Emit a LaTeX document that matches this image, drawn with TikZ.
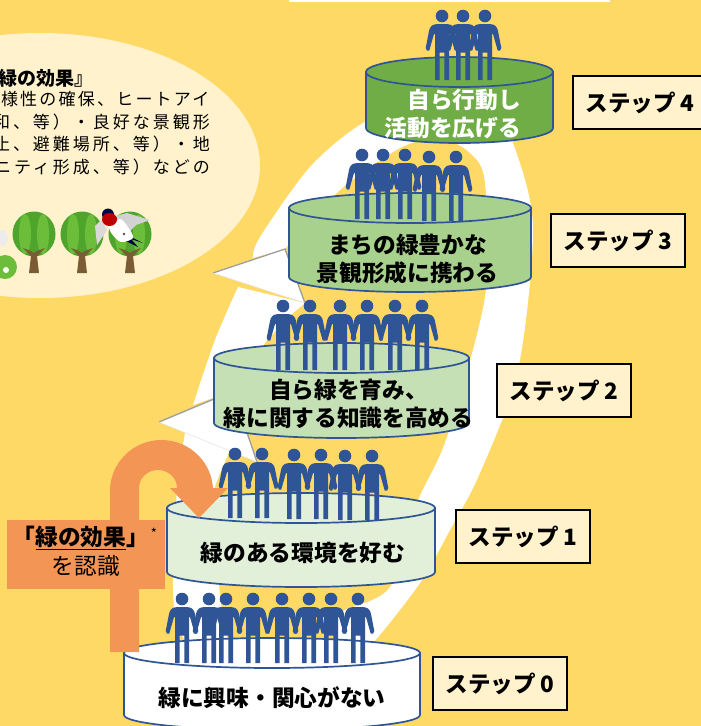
\documentclass[tikz,border=0pt]{standalone}
\usepackage{fontspec}
\usepackage{xcolor}
\setmainfont{Noto Sans CJK JP}
\newfontfamily\widefont[LetterSpace=17.5]{Noto Sans CJK JP}
\newfontfamily\tightfont[LetterSpace=13]{Noto Sans CJK JP}
\usetikzlibrary{calc}

\definecolor{bgyellow}{HTML}{FFD966}
\definecolor{palecream}{HTML}{FFF2CC}
\definecolor{arroworange}{HTML}{F29555}
\definecolor{peopleblue}{HTML}{2F5597}
\definecolor{greenfour}{HTML}{70AD47}
\definecolor{greenthree}{HTML}{A9D18E}
\definecolor{greentwo}{HTML}{C5E0B4}
\definecolor{greenone}{HTML}{E2F0D9}
\definecolor{headgray}{HTML}{A0A0A0}
\definecolor{leafdark}{HTML}{4FA52C}
\definecolor{leaflight}{HTML}{6CBE3A}
\definecolor{trunkbrown}{HTML}{7A5C34}

\tikzset{
  discline/.style={draw=peopleblue,line width=1.7pt},
  disctext/.style={font=\fontsize{22.7}{28}\selectfont\bfseries,align=center,text=black,inner sep=0pt},
  stepbox/.style={draw=black,line width=1.2pt,fill=palecream,minimum width=134pt,minimum height=53pt,
    inner sep=0pt,font=\fontsize{22.5}{27}\selectfont\bfseries},
  swirlhead/.style={draw=headgray,line width=1.4pt},
  bodytext/.style={anchor=east,inner sep=0pt,font=\fontsize{17}{20}\selectfont},
  person/.pic={
    \fill[peopleblue] (0,0) circle (6.3);
    \fill[peopleblue] (0,8) .. controls (4,8) and (8,8) .. (10,9.5) .. controls (12,11) and (12.5,13) .. (13,15)
      -- (16.3,32) -- (15,34.5) -- (12.7,34.5) -- (8,18) -- (7,18) -- (7,64) -- (2.3,64) -- (2.3,36.5)
      -- (-2.3,36.5) -- (-2.3,64) -- (-7,64) -- (-7,18) -- (-8,18) -- (-12.7,34.5) -- (-15,34.5) -- (-16.3,32)
      -- (-13,15) .. controls (-12.5,13) and (-12,11) .. (-10,9.5) .. controls (-8,8) and (-4,8) .. (0,8) -- cycle;
  },
  treepic/.pic={
    \fill[leafdark] (0,0) ellipse (21.5 and 22.5);
    \fill[leaflight] (-9,0) ellipse (6 and 20);
    \fill[leaflight] (9,0) ellipse (6 and 20);
    \fill[trunkbrown] (-5,39) -- (-3,22) -- (-11,14) -- (-3,17) -- (0,19) -- (3,17) -- (11,14) -- (3,22) -- (5,39) -- cycle;
  },
}

% disc of one step: centre x, top y, bottom y, half width, fill
\newcommand{\stepdisc}[5]{
  \path[discline,fill=#5] (#1-#4,#2) -- (#1-#4,#3) arc[start angle=180,end angle=0,x radius=#4,y radius=15] -- (#1+#4,#2) -- cycle;
  \path[discline,fill=#5] (#1,#2) ellipse (#4 and 15);
}

\begin{document}
\begin{tikzpicture}[x=1pt,y=-1pt]
  \useasboundingbox (0,0) rectangle (701,726);
  \clip (0,0) rectangle (701,726);
  \fill[bgyellow] (0,0) rectangle (701,726);
  \fill[white] (289,0) rectangle (610,1.5);

  % cream ellipse with the text and the trees
  \fill[palecream] (40,165.5) ellipse (220 and 132.5);
  \node[anchor=east,inner sep=0pt,font=\fontsize{19}{22}\selectfont\bfseries] (titletext) at (94,78) {緑の効果』};
  \node[bodytext] (lineone) at (209.5,99) {\tightfont 様性の確保、ヒートアイ};
  \node[bodytext] (linetwo) at (210,122) {\widefont 和、等）・良好な景観形};
  \node[bodytext] (linethree) at (210,144.5) {\widefont 止、避難場所、等）・地};
  \node[bodytext] (linefour) at (210,167) {\widefont ニティ形成、等）などの};
  \pic at (34,234) {treepic};
  \pic at (82,234) {treepic};
  \pic at (130,234) {treepic};
  % flower and butterfly at the edge
  \fill[leaflight] (5,267) circle (12);
  \fill[white] (6,270) circle (3);
  \fill[white!85!gray] (3,238) ellipse (5 and 8);
  % swallow
  \fill[gray!30] (101,220) -- (95,226) -- (97,245) -- (107,230) -- cycle;
  \fill[gray!35] (116,216) -- (127,213) -- (150,220) -- (136,225) -- (126,235) -- cycle;
  \fill[black!75!blue] (129,236) -- (143,243) -- (131,239) -- (138,247) -- (124,240) -- cycle;
  \fill[white] plot[smooth cycle] coordinates {(109,225) (120,219) (128,227) (133,238) (121,242) (112,234)};
  \fill[black!70] (124,234) circle (1.3);
  \fill[black!70!blue] (108,214.5) circle (6);
  \fill[red!75!black] (109.5,219.5) ellipse (7.5 and 6.5);

  % white swirl behind the discs
  \fill[white] plot[smooth] coordinates {(253,258) (260,237) (310,167) (363,123) (430,95) (490,105) (513,143) (533,227) (518,370) (480,473) (450,530) (420,583) (373,643) (345,668)}
    -- plot[smooth] coordinates {(330,625) (343,611) (390,587) (417,503) (447,437) (485,297) (485,183) (470,153) (440,138) (400,148) (340,190) (285,249)} -- cycle;
  \fill[white] plot[smooth] coordinates {(238,287) (215,340) (193,405)} -- (233,391) -- (267,340) -- (293,313) -- (305,303) -- cycle;
  \fill[white] plot[smooth] coordinates {(185,433) (177,490) (173,577) (176,620) (190,650)}
    -- plot[smooth] coordinates {(230,650) (222,610) (218,577) (212,530) (214,490) (230,451)} -- cycle;
  \fill[white] (213,273) coordinate (tiptwo) -- (285,249) coordinate (backtwo) -- (305,303) coordinate (lowtwo) -- cycle;
  \draw[swirlhead] (tiptwo) -- (backtwo) -- (lowtwo);
  \draw[gray!20,line width=0.5pt] (tiptwo) -- (lowtwo);
  \fill[white] (159,422) coordinate (tipone) -- (233,391) coordinate (backone) -- (257,462) coordinate (lowone) -- cycle;
  \draw[swirlhead] (tipone) -- (backone) -- (lowone);
  \draw[gray!20,line width=0.5pt] (tipone) -- (lowone);

  % step 4
  \stepdisc{459.5}{72}{128}{93.5}{greenfour}
  \foreach \px in {442,485,463} \pic at (\px,16) {person};
  \node[disctext,text=white,align=right,anchor=east] (textfour) at (521,114) {自ら行動し\\活動を広げる};
  \node[stepbox] (boxfour) at (640,102.5) {ステップ 4};

  % step 3
  \stepdisc{410}{208}{277}{121}{greenthree}
  \foreach \px/\py in {362/155,405/155,383/155,429/157,456/157} \pic at (\px,\py) {person};
  \node[disctext] (textthree) at (407.5,259) {まちの緑豊かな\\景観形成に携わる};
  \node[stepbox] (boxthree) at (618,240.5) {ステップ 3};

  % step 2
  \stepdisc{341.5}{358}{423}{127.5}{greentwo}
  \foreach \px in {283,310,340,367,395,422} \pic at (\px,306) {person};
  \node[disctext] (texttwo) at (348.5,403.5) {自ら緑を育み、\\緑に関する知識を高める};
  \node[stepbox] (boxtwo) at (564,390.5) {ステップ 2};

  % step 1
  \stepdisc{301}{508}{572}{134}{greenone}
  \foreach \px/\py in {235/454,262/454,294/455,321/455,345/456,372/456} \pic at (\px,\py) {person};
  \node[disctext] (textone) at (303,553) {緑のある環境を好む};
  \node[stepbox] (boxone) at (523,536.5) {ステップ 1};

  % step 0
  \stepdisc{272}{653}{715}{148}{white}
  \foreach \px in {182,209,226,253,282,309,331,358} \pic at (\px,599) {person};
  \node[disctext] (textzero) at (272,698) {緑に興味・関心がない};
  \node[stepbox] (boxzero) at (500,683.5) {ステップ 0};

  % orange bent arrow and its label
  \fill[arroworange] (110,652) -- (110,491) arc[start angle=180,end angle=360,x radius=51.5,y radius=51]
    -- (213,488) -- (228,488) -- (199,518) -- (170,488) -- (177,488)
    arc[start angle=0,end angle=-180,x radius=19,y radius=18] -- (139,652) -- cycle;
  \node[fill=arroworange,minimum width=158pt,minimum height=69pt,inner sep=0pt] (labelbox) at (86,554.5) {};
  \node[disctext] (labeltop) at (81,538) {「\underline{緑の効果}」};
  \node[disctext,font=\fontsize{22.7}{28}\selectfont] (labellow) at (86,566) {を認識};
  \node[inner sep=0pt,font=\fontsize{13}{13}\selectfont] (labelstar) at (154,533) {*};
\end{tikzpicture}
\end{document}
